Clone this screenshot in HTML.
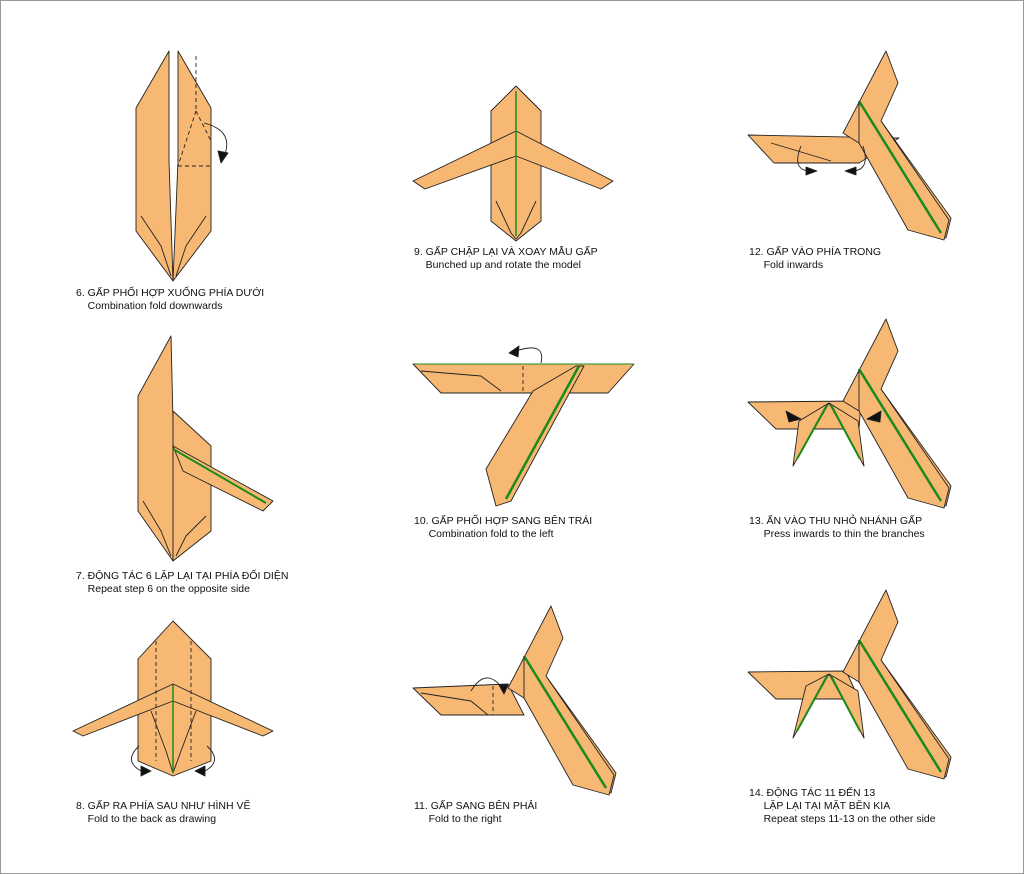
<!DOCTYPE html>
<html><head><meta charset="utf-8"><style>
body{margin:0;background:#fff}
.w{position:relative;width:1022px;height:872px;border:1px solid #999;overflow:hidden;font-family:"Liberation Sans","Noto Sans CJK SC",sans-serif}
svg{position:absolute;left:0;top:0}
.l{position:absolute;font-size:10.5px;line-height:13px;color:#111;white-space:nowrap}
</style></head><body><div class="w">
<svg width="1024" height="874" viewBox="0 0 1024 874">
<defs>
<g id="leg">
<polygon points="880,388 950,485 945,505 905,493"/>
<polygon points="842,400 885,318 897,350 880,388 948,487 943,507 907,497 858,410"/>
<line x1="858" y1="368" x2="940" y2="500" stroke="#1a8a1a" stroke-width="2.5"/>
<line x1="858" y1="368" x2="858" y2="410"/>
</g>
</defs>
<g fill="#f7b874" stroke="#222" stroke-width="0.9" stroke-linejoin="round">
<!-- 6 -->
<polygon points="135,107 168,50 168,160 172,280 135,230"/>
<polygon points="177,50 210,107 210,230 172,280 177,160"/>
<polyline fill="none" points="140,215 160,245 170,275"/><polyline fill="none" points="205,215 185,245 175,275"/>
<path d="M195,55 L195,110 M177,165 L210,165 M195,110 L177,165 M195,110 L210,140" fill="none" stroke-dasharray="4,3"/>
<path d="M203,122 Q235,130 222,158" fill="none"/><polygon points="217,150 227,152 220,162" fill="#111"/>
<!-- 7 -->
<polygon points="137,395 170,335 172,420 172,560 137,510"/>
<polygon points="172,410 210,445 210,530 172,560"/>
<polygon points="172,445 272,500 262,510 182,470"/>
<line x1="172" y1="448" x2="265" y2="502" stroke="#1a8a1a" stroke-width="2"/>
<polyline fill="none" points="142,500 160,530 170,555"/><polyline fill="none" points="205,515 185,535 175,555"/>
<!-- 8 -->
<polygon points="137,658 172,620 210,658 210,760 172,775 137,760"/>
<polygon points="172,683 72,730 82,735 172,700"/>
<polygon points="172,683 272,730 262,735 172,700"/>
<path d="M155,640 L155,760 M190,640 L190,760" fill="none" stroke-dasharray="4,3"/>
<polyline fill="none" points="150,710 165,750 172,772 180,750 195,710"/>
<line x1="172" y1="684" x2="172" y2="772" stroke="#1a8a1a" stroke-width="1.5"/>
<path d="M138,745 Q122,760 140,770" fill="none"/><polygon points="140,765 150,770 140,775" fill="#111"/>
<path d="M206,745 Q222,760 204,770" fill="none"/><polygon points="204,765 194,770 204,775" fill="#111"/>
<!-- 9 -->
<polygon points="490,110 515,85 540,110 540,220 515,240 490,220"/>
<polygon points="515,130 412,180 424,188 515,155"/>
<polygon points="515,130 612,180 600,188 515,155"/>
<line x1="515" y1="90" x2="515" y2="235" stroke="#1a8a1a" stroke-width="1.5"/>
<polyline fill="none" points="495,200 510,232 515,238 520,232 535,200"/>
<!-- 10 -->
<polygon points="412,363 633,363 607,392 440,392"/>
<polyline fill="none" points="420,370 480,375 500,390 M420,375 440,382"/>
<line x1="522" y1="365" x2="522" y2="392" stroke-dasharray="4,3"/>
<polygon points="532,390 575,365 583,365 510,500 495,505 485,468"/>
<line x1="578" y1="365" x2="505" y2="498" stroke="#1a8a1a" stroke-width="2.5"/>
<line x1="412" y1="363" x2="633" y2="363" stroke="#1a8a1a" stroke-width="1"/>
<path d="M540,362 Q545,340 515,350" fill="none"/><polygon points="508,352 518,345 517,356" fill="#111"/>
<!-- 11 -->
<polygon points="412,687 507,683 523,714 440,714"/>
<polyline fill="none" points="420,692 470,700 487,714"/>
<line x1="492" y1="685" x2="492" y2="714" stroke-dasharray="4,3"/>
<use href="#leg" transform="translate(-335,287)"/>
<path d="M470,690 Q485,665 502,688" fill="none"/><polygon points="498,684 507,684 503,693" fill="#111"/>
<!-- 12 -->
<polygon points="747,134 898,137 858,162 773,162"/>
<polyline fill="none" points="770,142 830,160 M825,145 790,160"/>
<use href="#leg" transform="translate(0,-268)"/>
<path d="M800,145 Q790,170 810,170 M862,145 Q870,170 850,170" fill="none"/>
<polygon points="805,166 816,170 805,174" fill="#111"/><polygon points="855,166 844,170 855,174" fill="#111"/>
<!-- 13 -->
<polygon points="747,401 860,400 858,428 775,428"/>
<use href="#leg"/>
<polygon points="798,420 828,402 792,465"/><polygon points="828,402 857,420 863,465"/>
<line x1="826" y1="404" x2="796" y2="458" stroke="#1a8a1a" stroke-width="2"/><line x1="830" y1="404" x2="859" y2="458" stroke="#1a8a1a" stroke-width="2"/>
<polygon points="785,410 800,418 788,421" fill="#111"/><polygon points="880,410 866,418 879,421" fill="#111"/>
<!-- 14 -->
<polygon points="747,671 845,670 858,698 775,698"/>
<use href="#leg" transform="translate(0,271)"/>
<polygon points="805,685 828,673 792,737"/><polygon points="828,673 857,690 863,737"/>
<line x1="826" y1="675" x2="796" y2="730" stroke="#1a8a1a" stroke-width="2"/><line x1="830" y1="675" x2="859" y2="730" stroke="#1a8a1a" stroke-width="2"/>
</g></svg>
<div class="l" style="left:75px;top:286px">6. GẤP PHỐI HỢP XUỐNG PHÍA DƯỚI<br>&nbsp;&nbsp;&nbsp;&nbsp;Combination fold downwards</div>
<div class="l" style="left:75px;top:569px">7. ĐỘNG TÁC 6 LẶP LẠI TẠI PHÍA ĐỐI DIỆN<br>&nbsp;&nbsp;&nbsp;&nbsp;Repeat step 6 on the opposite side</div>
<div class="l" style="left:75px;top:799px">8. GẤP RA PHÍA SAU NHƯ HÌNH VẼ<br>&nbsp;&nbsp;&nbsp;&nbsp;Fold to the back as drawing</div>
<div class="l" style="left:413px;top:245px">9. GẤP CHẬP LẠI VÀ XOAY MẪU GẤP<br>&nbsp;&nbsp;&nbsp;&nbsp;Bunched up and rotate the model</div>
<div class="l" style="left:413px;top:514px">10. GẤP PHỐI HỢP SANG BÊN TRÁI<br>&nbsp;&nbsp;&nbsp;&nbsp;&nbsp;Combination fold to the left</div>
<div class="l" style="left:413px;top:799px">11. GẤP SANG BÊN PHẢI<br>&nbsp;&nbsp;&nbsp;&nbsp;&nbsp;Fold to the right</div>
<div class="l" style="left:748px;top:245px">12. GẤP VÀO PHÍA TRONG<br>&nbsp;&nbsp;&nbsp;&nbsp;&nbsp;Fold inwards</div>
<div class="l" style="left:748px;top:514px">13. ẤN VÀO THU NHỎ NHÁNH GẤP<br>&nbsp;&nbsp;&nbsp;&nbsp;&nbsp;Press inwards to thin the branches</div>
<div class="l" style="left:748px;top:786px">14. ĐỘNG TÁC 11 ĐẾN 13<br>&nbsp;&nbsp;&nbsp;&nbsp;&nbsp;LẶP LẠI TẠI MẶT BÊN KIA<br>&nbsp;&nbsp;&nbsp;&nbsp;&nbsp;Repeat steps 11-13 on the other side</div>
</div></body></html>
